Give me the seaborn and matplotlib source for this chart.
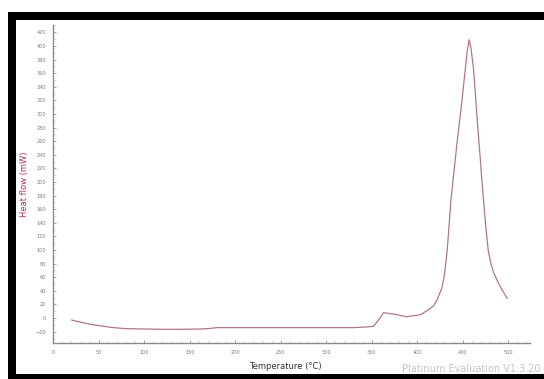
import matplotlib
matplotlib.use("Agg")
import matplotlib.pyplot as plt
from matplotlib.patches import Rectangle
from matplotlib.ticker import MultipleLocator
import numpy as np
import pandas as pd
import seaborn as sns

# DSC scan: temperature (°C) and heat flow (mW)
temperature = [20, 25, 30, 40, 50, 60, 70, 80, 100, 120, 140, 160, 170, 180,
               200, 250, 300, 330, 345, 352, 358, 363, 368, 378, 388, 393,
               400, 405, 412, 418, 422, 427, 430, 433, 435, 437, 440, 444,
               448, 452, 455, 457, 459, 462, 466, 469, 471, 473, 475, 478,
               481, 484, 488, 493, 499]
heat_flow = [-2.8, -4.5, -6, -9, -11, -13, -14.5, -15.5, -16, -16.5, -16.5, -16,
             -15.5, -14, -14, -14, -14, -14, -13, -12, -2, 8, 7, 5, 2, 3,
             4, 6, 12, 18, 27, 44, 64, 100, 135, 172, 210, 260,
             305, 355, 392, 409, 398, 365, 291, 240, 205, 172, 140, 100,
             80, 67, 55, 42, 29]

x_ticks = list(range(0, 501, 50))
y_ticks = list(range(-20, 421, 20))

df = pd.DataFrame({"Temperature": temperature, "Heat flow": heat_flow})

sns.set_style("white")
plt.rcParams["font.family"] = ["DejaVu Sans"]

W, H = 544, 379
fig = plt.figure(figsize=(W / 100, H / 100), dpi=100)
fig.patch.set_facecolor("white")

# axes placed in pixel terms
left, right, top, bottom = 53.3, 530, 25, 343
ax = fig.add_axes([left / W, 1 - bottom / H, (right - left) / W, (bottom - top) / H])

sns.lineplot(data=df, x="Temperature", y="Heat flow", ax=ax,
             color="#b07886", linewidth=0.9, sort=False)

ax.set_xlim(0, 524)
ax.set_ylim(-36.6, 430.7)
ax.set_xticks(x_ticks)
ax.set_yticks(y_ticks)
ax.xaxis.set_minor_locator(MultipleLocator(10))
ax.yaxis.set_minor_locator(MultipleLocator(10))

for s in ["top", "right"]:
    ax.spines[s].set_visible(False)
for s in ["left", "bottom"]:
    ax.spines[s].set_color("#8a8a8a")
    ax.spines[s].set_linewidth(1.0)

ax.tick_params(axis="both", which="major", length=2.5, width=0.6,
               color="#999999", labelsize=3.6, labelcolor="#7a7a7a", pad=5,
               direction="in", bottom=True, left=True)
ax.tick_params(axis="both", which="minor", length=1.5, width=0.5,
               color="#bbbbbb", direction="in", bottom=True, left=True)

ax.set_xlabel("Temperature (°C)", fontsize=6, color="#333333")
ax.set_ylabel("Heat flow (mW)", fontsize=6, color="#b03050")
ax.xaxis.set_label_coords(0.486, -0.06)
ax.yaxis.set_label_coords(-0.051, 0.5)

fig.text(402 / W, 1 - 369 / H, "Platinum Evaluation V1.3.20",
         fontsize=7.0, color="#c4c4c4", ha="left", va="center")

# black frame around the chart
frame = dict(transform=None, facecolor="black", edgecolor="none", zorder=10)
fig.patches.append(Rectangle((8, H - 20), W - 8, 8, **frame))
fig.patches.append(Rectangle((8, 0), 8, H - 12, **frame))
fig.patches.append(Rectangle((8, 0), W - 8, 5, **frame))

fig.savefig("out.png", dpi=100, facecolor="white")
